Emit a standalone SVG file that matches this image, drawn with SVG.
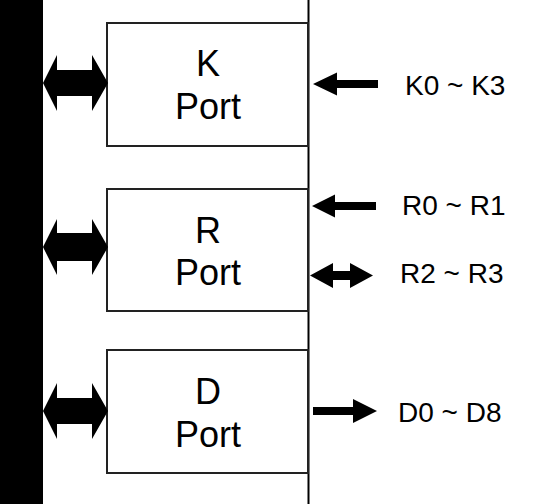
<svg xmlns="http://www.w3.org/2000/svg" width="536" height="504" viewBox="0 0 536 504">
<style>
.box{fill:#fff;stroke:#222;stroke-width:2}
.big{font-family:"Liberation Sans",Arial,sans-serif;font-size:36px;fill:#000;text-anchor:middle}
.lbl{font-family:"Liberation Sans",Arial,sans-serif;font-size:28px;fill:#000}
.arr{fill:#000}
</style>
<rect width="536" height="504" fill="#fff"/>
<rect id="bus" x="0" y="0" width="43" height="504" fill="#000"/>
<line x1="308.5" y1="0" x2="308.5" y2="504" stroke="#000" stroke-width="2"/>
<g id="kport">
<rect class="box" x="107" y="23" width="201" height="123"/>
<text class="big" x="208" y="76">K</text>
<text class="big" x="208" y="119">Port</text>
</g>
<g id="rport">
<rect class="box" x="107" y="189" width="201" height="122"/>
<text class="big" x="208" y="243">R</text>
<text class="big" x="208" y="285">Port</text>
</g>
<g id="dport">
<rect class="box" x="107" y="350" width="201" height="123"/>
<text class="big" x="208" y="404">D</text>
<text class="big" x="208" y="447">Port</text>
</g>
<g id="connectors">
<polygon class="arr" points="43,83 57,55 57,70 92,70 92,55 108,83 92,111 92,96 57,96 57,111"/>
<polygon class="arr" points="43,247 57,219 57,233 92,233 92,219 108,247 92,275 92,261 57,261 57,275"/>
<polygon class="arr" points="43,411 57,383 57,398 92,398 92,383 108,411 92,439 92,424 57,424 57,439"/>
<polygon class="arr" points="313,84 337,72.5 337,80 378,80 378,88 337,88 337,95.5"/>
<polygon class="arr" points="312,206 335,194.5 335,202 376,202 376,210 335,210 335,217.5"/>
<polygon class="arr" points="310,275.5 333,263 333,271 350,271 350,263 373,275.5 350,288 350,280 333,280 333,288"/>
<polygon class="arr" points="377,411 353,399 353,407 313,407 313,415 353,415 353,423"/>
</g>
<g id="labels">
<text class="lbl" x="405" y="95">K0 ~ K3</text>
<text class="lbl" x="402" y="215">R0 ~ R1</text>
<text class="lbl" x="400" y="283">R2 ~ R3</text>
<text class="lbl" x="398" y="422">D0 ~ D8</text>
</g>
</svg>
